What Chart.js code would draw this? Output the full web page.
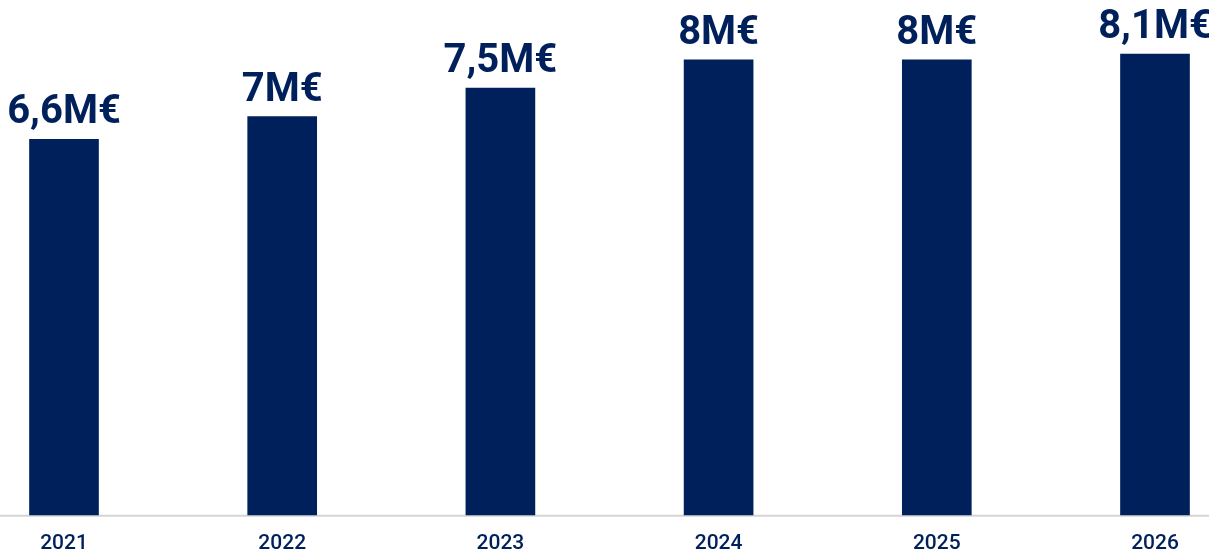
<!DOCTYPE html>
<html>
<head>
<meta charset="utf-8">
<script src="https://cdn.jsdelivr.net/npm/chart.js@4"></script>
<style>
    html, body { margin: 0; padding: 0; background: #ffffff; }
    #wrap { width: 1209px; height: 555px; }
</style>
</head>
<body>
<div id="wrap"><canvas id="revenueChart"></canvas></div>
<script>
// dati
const years = ['2021', '2022', '2023', '2024', '2025', '2026'];
const revenue = [6.6, 7, 7.5, 8, 8, 8.1];
const valueLabels = ['6,6M€', '7M€', '7,5M€', '8M€', '8M€', '8,1M€'];

const NAVY = '#00205b';

// linea di base grigia su tutta la larghezza
const baseLinePlugin = {
    id: 'baseLine',
    beforeDatasetsDraw(chart) {
        const { ctx } = chart;
        const y = chart.scales.y.getPixelForValue(0);
        ctx.save();
        ctx.strokeStyle = '#d4d4d4';
        ctx.lineWidth = 2;
        ctx.beginPath();
        ctx.moveTo(0, y + 1);
        ctx.lineTo(chart.width, y + 1);
        ctx.stroke();
        ctx.restore();
    }
};

// etichette dei valori sopra le barre
const valueLabelPlugin = {
    id: 'valueLabels',
    afterDatasetsDraw(chart) {
        const { ctx } = chart;
        const meta = chart.getDatasetMeta(0);
        ctx.save();
        ctx.font = '700 40px Roboto';
        ctx.fillStyle = NAVY;
        ctx.textAlign = 'center';
        ctx.textBaseline = 'alphabetic';
        meta.data.forEach((bar, i) => {
            ctx.fillText(valueLabels[i], bar.x, bar.y - 16);
        });
        ctx.restore();
    }
};

new Chart(document.getElementById('revenueChart'), {
    type: 'bar',
    data: {
        labels: years,
        datasets: [{
            data: revenue,
            backgroundColor: NAVY,
            borderWidth: 0,
            barThickness: 69,
            clip: false
        }]
    },
    options: {
        responsive: true,
        maintainAspectRatio: false,
        animation: false,
        layout: { padding: { top: 0, bottom: -17, left: 64, right: 54 } },
        plugins: {
            legend: { display: false },
            tooltip: { enabled: false }
        },
        scales: {
            x: {
                offset: false,
                grid: { display: false, drawTicks: false },
                border: { display: false },
                ticks: {
                    autoSkip: false,
                    maxRotation: 0,
                    padding: 16,
                    color: NAVY,
                    font: { family: 'Roboto', size: 21, weight: '500' }
                }
            },
            y: {
                display: false,
                min: 0,
                max: 9.05
            }
        }
    },
    plugins: [baseLinePlugin, valueLabelPlugin]
});
</script>
</body>
</html>
